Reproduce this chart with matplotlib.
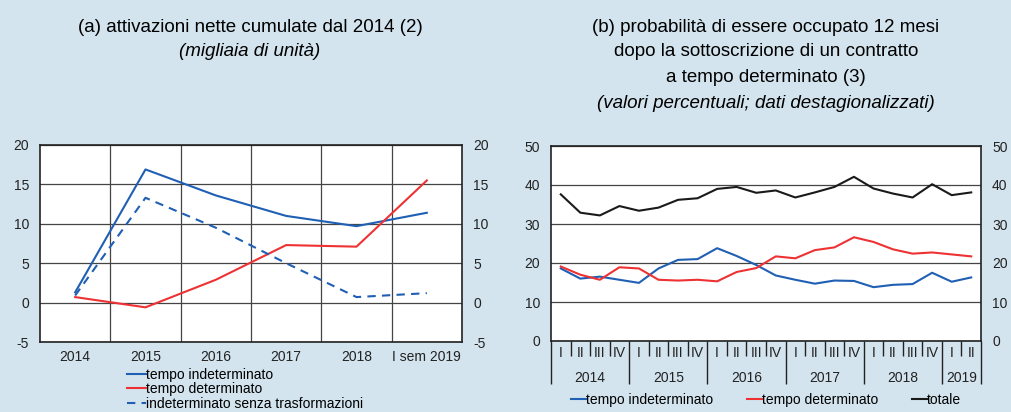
import matplotlib
matplotlib.use("Agg")
import matplotlib.pyplot as plt
import matplotlib.transforms as mtrans
import numpy as np

plt.rcParams['font.family'] = ['Liberation Sans', 'DejaVu Sans']
plt.rcParams['axes.unicode_minus'] = False

BG = '#d3e4ee'
BLUE = '#1f5fb4'
RED = '#ee3233'
BLACK = '#1a1a1a'

# ---- panel (a) data: attivazioni nette cumulate (migliaia)
years_a = ['2014', '2015', '2016', '2017', '2018', 'I sem 2019']
indet_a = [1.3, 16.9, 13.6, 11.0, 9.7, 11.4]
det_a = [0.7, -0.6, 2.9, 7.3, 7.1, 15.5]
indet_no_tr = [0.9, 13.3, 9.5, 5.0, 0.7, 1.2]

# ---- panel (b) data: probabilità di essere occupato (%)
quarters = ['I', 'II', 'III', 'IV'] * 5 + ['I', 'II']
year_labels_b = ['2014', '2015', '2016', '2017', '2018', '2019']
indet_b = [18.6, 16.0, 16.5, 15.7, 14.9, 18.6, 20.8, 21.0, 23.8, 21.8, 19.5,
           16.8, 15.7, 14.7, 15.5, 15.4, 13.8, 14.4, 14.6, 17.5, 15.2, 16.3]
det_b = [19.1, 17.0, 15.7, 18.9, 18.6, 15.7, 15.5, 15.7, 15.3, 17.7, 18.7,
         21.7, 21.2, 23.3, 24.0, 26.6, 25.4, 23.5, 22.4, 22.7, 22.2, 21.7]
tot_b = [37.6, 32.9, 32.2, 34.6, 33.4, 34.2, 36.2, 36.6, 39.0, 39.5, 38.0,
         38.6, 36.8, 38.1, 39.5, 42.1, 39.1, 37.8, 36.8, 40.2, 37.4, 38.1]

fig = plt.figure(figsize=(10.11, 4.12), dpi=100)
fig.patch.set_facecolor(BG)

TFS = 13.5
FS = 10

# ------------------------------- panel (a) -------------------------------
ax1 = fig.add_axes([40 / 1011, 70 / 412, 422 / 1011, 197 / 412])
xa = np.arange(len(years_a))
ax1.plot(xa, indet_a, color=BLUE, lw=1.5, label='tempo indeterminato')
ax1.plot(xa, det_a, color=RED, lw=1.5, label='tempo determinato')
ax1.plot(xa, indet_no_tr, color=BLUE, lw=1.5, ls=(0, (4, 3)),
         label='indeterminato senza trasformazioni')
ax1.set_xlim(-0.5, 5.5)
ax1.set_ylim(-5, 20)
ax1.set_yticks(range(-5, 21, 5))
ax1.set_xticks(xa)
ax1.set_xticklabels(years_a)
ax1.set_xticks(np.arange(0.5, 5, 1), minor=True)
ax1.grid(axis='y', color='#444444', lw=0.9)
ax1.grid(axis='x', which='minor', color='#444444', lw=0.9)
ax1.set_axisbelow(True)
ax1.tick_params(axis='both', which='both', length=0, labelsize=FS, colors='#222222')
ax1.tick_params(axis='y', labelright=True, pad=8)
ax1.tick_params(axis='x', pad=6)
for s in ax1.spines.values():
    s.set_color('#222222')
    s.set_linewidth(1.2)
ax1.legend(loc='upper left', bbox_to_anchor=(87 / 422, -26 / 197), frameon=False,
           fontsize=FS, handlelength=1.4, handletextpad=0, labelspacing=0.02,
           borderpad=0, borderaxespad=0)

fig.text(250 / 1011, 1 - 27 / 412, '(a) attivazioni nette cumulate dal 2014 (2)',
         ha='center', va='center', fontsize=TFS)
fig.text(250 / 1011, 1 - 52 / 412, '(migliaia di unità)', ha='center', va='center',
         fontsize=TFS, style='italic')

# ------------------------------- panel (b) -------------------------------
ax2 = fig.add_axes([551 / 1011, 71 / 412, 430 / 1011, 195 / 412])
xb = np.arange(len(quarters))
ax2.plot(xb, indet_b, color=BLUE, lw=1.5, label='tempo indeterminato')
ax2.plot(xb, det_b, color=RED, lw=1.5, label='tempo determinato')
ax2.plot(xb, tot_b, color=BLACK, lw=1.5, label='totale')
ax2.set_xlim(-0.5, len(quarters) - 0.5)
ax2.set_ylim(0, 50)
ax2.set_yticks(range(0, 51, 10))
ax2.grid(axis='y', color='#444444', lw=0.9)
ax2.set_axisbelow(True)
ax2.tick_params(axis='y', length=0, labelsize=FS, colors='#222222',
                labelright=True, pad=8)

# separators: long at year boundaries, short between quarters
year_bounds = [-0.5, 3.5, 7.5, 11.5, 15.5, 19.5, 21.5]
q_bounds = [b for b in np.arange(0.5, 21, 1) if b not in year_bounds]
ax2.set_xticks(year_bounds)
ax2.set_xticklabels([''] * len(year_bounds))
ax2.set_xticks(q_bounds, minor=True)
ax2.tick_params(axis='x', which='major', length=31, width=1.0, color='#222222')
ax2.tick_params(axis='x', which='minor', length=11, width=1.0, color='#222222')

trans = mtrans.blended_transform_factory(ax2.transData, ax2.transAxes)
for i, q in enumerate(quarters):
    ax2.text(xb[i], -12 / 195, q, transform=trans, ha='center', va='center',
             fontsize=FS, color='#222222')
year_centers = [(year_bounds[k] + year_bounds[k + 1]) / 2 for k in range(len(year_bounds) - 1)]
for c, yl in zip(year_centers, year_labels_b):
    ax2.text(c, -37 / 195, yl, transform=trans, ha='center', va='center',
             fontsize=FS, color='#222222')
for s in ax2.spines.values():
    s.set_color('#222222')
    s.set_linewidth(1.2)
ax2.legend(loc='center', bbox_to_anchor=(0.5, -59 / 195), ncol=3, frameon=False,
           fontsize=FS, handlelength=1.1, handletextpad=0, columnspacing=2.4,
           borderpad=0, borderaxespad=0)

fig.text(766 / 1011, 1 - 27 / 412, '(b) probabilità di essere occupato 12 mesi',
         ha='center', va='center', fontsize=TFS)
fig.text(766 / 1011, 1 - 52 / 412, 'dopo la sottoscrizione di un contratto',
         ha='center', va='center', fontsize=TFS)
fig.text(766 / 1011, 1 - 77 / 412, 'a tempo determinato (3)',
         ha='center', va='center', fontsize=TFS)
fig.text(766 / 1011, 1 - 103 / 412, '(valori percentuali; dati destagionalizzati)',
         ha='center', va='center', fontsize=TFS, style='italic')

fig.savefig('out.png', dpi=100, facecolor=BG)
